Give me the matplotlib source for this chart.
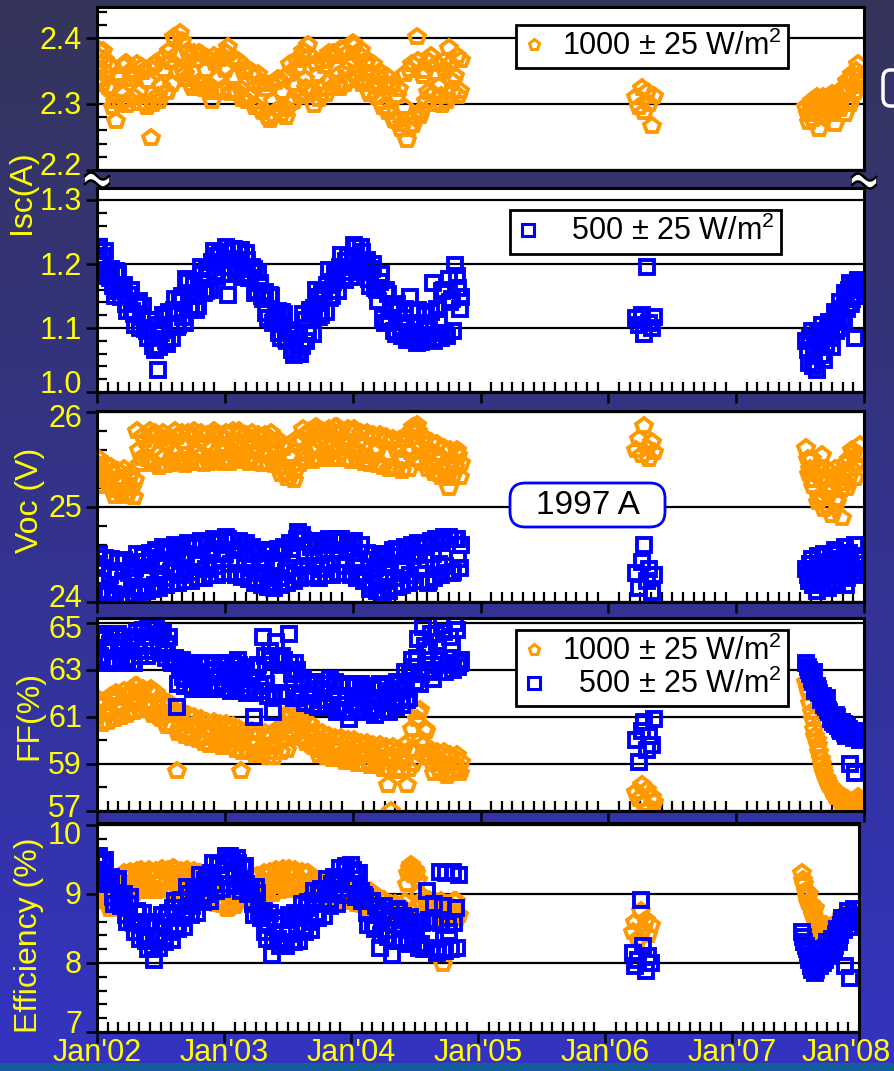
import numpy as np
import matplotlib
matplotlib.use("Agg")
import matplotlib.pyplot as plt
from matplotlib.lines import Line2D
from matplotlib.patches import Rectangle, FancyBboxPatch, Polygon
from matplotlib.ticker import FixedLocator, MultipleLocator, NullLocator
from matplotlib.transforms import blended_transform_factory, ScaledTranslation

plt.rcParams['font.family'] = ['Liberation Sans', 'DejaVu Sans']
plt.rcParams['mathtext.default'] = 'regular'

# ---------------------------------------------------------------- data
# measurement dates (decimal years), main campaign 2002-2004, two interleaved runs
t_main = [
    2002.000, 2002.025, 2002.050, 2002.075, 2002.100, 2002.125, 2002.150, 2002.175,
    2002.200, 2002.225, 2002.250, 2002.275, 2002.300, 2002.325, 2002.350, 2002.375,
    2002.400, 2002.425, 2002.450, 2002.475, 2002.500, 2002.525, 2002.550, 2002.575,
    2002.600, 2002.625, 2002.650, 2002.675, 2002.700, 2002.725, 2002.750, 2002.775,
    2002.800, 2002.825, 2002.850, 2002.875, 2002.900, 2002.925, 2002.950, 2002.975,
    2003.000, 2003.025, 2003.050, 2003.075, 2003.100, 2003.125, 2003.150, 2003.175,
    2003.200, 2003.225, 2003.250, 2003.275, 2003.300, 2003.325, 2003.350, 2003.375,
    2003.400, 2003.425, 2003.450, 2003.475, 2003.500, 2003.525, 2003.550, 2003.575,
    2003.600, 2003.625, 2003.650, 2003.675, 2003.700, 2003.725, 2003.750, 2003.775,
    2003.800, 2003.825, 2003.850, 2003.875, 2003.900, 2003.925, 2003.950, 2003.975,
    2004.000, 2004.025, 2004.050, 2004.075, 2004.100, 2004.125, 2004.150, 2004.175,
    2004.200, 2004.225, 2004.250, 2004.275, 2004.300, 2004.325, 2004.350, 2004.375,
    2004.400, 2004.425, 2004.450, 2004.475, 2004.500, 2004.525, 2004.550, 2004.575,
    2004.600, 2004.625, 2004.650, 2004.675, 2004.700, 2004.725, 2004.750, 2004.775,
    2004.800, 2004.825, 2004.850,
]
t_main_2 = [
    2002.0125, 2002.0375, 2002.0625, 2002.0875, 2002.1125, 2002.1375, 2002.1625, 2002.1875,
    2002.2125, 2002.2375, 2002.2625, 2002.2875, 2002.3125, 2002.3375, 2002.3625, 2002.3875,
    2002.4125, 2002.4375, 2002.4625, 2002.4875, 2002.5125, 2002.5375, 2002.5625, 2002.5875,
    2002.6125, 2002.6375, 2002.6625, 2002.6875, 2002.7125, 2002.7375, 2002.7625, 2002.7875,
    2002.8125, 2002.8375, 2002.8625, 2002.8875, 2002.9125, 2002.9375, 2002.9625, 2002.9875,
    2003.0125, 2003.0375, 2003.0625, 2003.0875, 2003.1125, 2003.1375, 2003.1625, 2003.1875,
    2003.2125, 2003.2375, 2003.2625, 2003.2875, 2003.3125, 2003.3375, 2003.3625, 2003.3875,
    2003.4125, 2003.4375, 2003.4625, 2003.4875, 2003.5125, 2003.5375, 2003.5625, 2003.5875,
    2003.6125, 2003.6375, 2003.6625, 2003.6875, 2003.7125, 2003.7375, 2003.7625, 2003.7875,
    2003.8125, 2003.8375, 2003.8625, 2003.8875, 2003.9125, 2003.9375, 2003.9625, 2003.9875,
    2004.0125, 2004.0375, 2004.0625, 2004.0875, 2004.1125, 2004.1375, 2004.1625, 2004.1875,
    2004.2125, 2004.2375, 2004.2625, 2004.2875, 2004.3125, 2004.3375, 2004.3625, 2004.3875,
    2004.4125, 2004.4375, 2004.4625, 2004.4875, 2004.5125, 2004.5375, 2004.5625, 2004.5875,
    2004.6125, 2004.6375, 2004.6625, 2004.6875, 2004.7125, 2004.7375, 2004.7625, 2004.7875,
    2004.8125, 2004.8375,
]
# spring 2006 check
t_2006 = [2006.22, 2006.24, 2006.26, 2006.28, 2006.30, 2006.32, 2006.34, 2006.36]
# second half of 2007, two interleaved runs
t_2007 = [2007.55, 2007.57, 2007.59, 2007.61, 2007.63, 2007.65, 2007.67, 2007.69,
          2007.71, 2007.73, 2007.75, 2007.77, 2007.79, 2007.81, 2007.83, 2007.85,
          2007.87, 2007.89, 2007.91, 2007.93, 2007.95, 2007.97]
t_2007_2 = [2007.56, 2007.58, 2007.60, 2007.62, 2007.64, 2007.66, 2007.68, 2007.70,
            2007.72, 2007.74, 2007.76, 2007.78, 2007.80, 2007.82, 2007.84, 2007.86,
            2007.88, 2007.90, 2007.92, 2007.94, 2007.96]

# Isc (A) at 1000 +/- 25 W/m2
isc_1000_main = [
    2.372, 2.338, 2.381, 2.345, 2.322, 2.296, 2.274, 2.340,
    2.315, 2.362, 2.306, 2.338, 2.344, 2.318, 2.356, 2.302,
    2.335, 2.248, 2.361, 2.312, 2.327, 2.352, 2.318, 2.364,
    2.402, 2.375, 2.408, 2.352, 2.338, 2.372, 2.325, 2.366,
    2.378, 2.331, 2.352, 2.318, 2.305, 2.362, 2.339, 2.372,
    2.352, 2.386, 2.318, 2.341, 2.365, 2.322, 2.348, 2.304,
    2.312, 2.341, 2.296, 2.330, 2.288, 2.322, 2.276, 2.305,
    2.334, 2.292, 2.318, 2.281, 2.345, 2.303, 2.331, 2.356,
    2.372, 2.338, 2.389, 2.316, 2.298, 2.344, 2.322, 2.358,
    2.367, 2.335, 2.378, 2.343, 2.325, 2.382, 2.351, 2.364,
    2.393, 2.346, 2.374, 2.331, 2.362, 2.318, 2.345, 2.327,
    2.341, 2.303, 2.332, 2.288, 2.326, 2.276, 2.312, 2.262,
    2.295, 2.246, 2.352, 2.268, 2.401, 2.282, 2.342, 2.305,
    2.364, 2.315, 2.347, 2.328, 2.298, 2.352, 2.385, 2.335,
    2.342, 2.312, 2.366,
]
isc_1000_main_2 = [
    2.382, 2.331, 2.366, 2.326, 2.358, 2.305, 2.345, 2.300,
    2.357, 2.298, 2.350, 2.310, 2.360, 2.302, 2.348, 2.296,
    2.355, 2.300, 2.362, 2.305, 2.370, 2.318, 2.380, 2.330,
    2.398, 2.350, 2.395, 2.345, 2.380, 2.330, 2.378, 2.332,
    2.376, 2.322, 2.370, 2.328, 2.372, 2.318, 2.368, 2.322,
    2.378, 2.316, 2.370, 2.320, 2.362, 2.308, 2.355, 2.312,
    2.348, 2.295, 2.345, 2.290, 2.332, 2.280, 2.330, 2.284,
    2.338, 2.285, 2.340, 2.292, 2.360, 2.305, 2.366, 2.312,
    2.380, 2.325, 2.372, 2.320, 2.362, 2.308, 2.365, 2.315,
    2.378, 2.325, 2.372, 2.330, 2.384, 2.330, 2.378, 2.336,
    2.388, 2.338, 2.382, 2.336, 2.366, 2.315, 2.360, 2.310,
    2.348, 2.295, 2.342, 2.290, 2.330, 2.275, 2.322, 2.270,
    2.345, 2.262, 2.360, 2.280, 2.365, 2.290, 2.350, 2.318,
    2.372, 2.300, 2.360, 2.312, 2.365, 2.305, 2.360, 2.318,
    2.372, 2.320,
]
isc_1000_2006 = [2.310, 2.295, 2.325, 2.288, 2.318, 2.300, 2.266, 2.312]
isc_1000_2007 = [2.295, 2.272, 2.305, 2.285, 2.310, 2.262, 2.298, 2.280,
                 2.302, 2.288, 2.315, 2.270, 2.305, 2.292, 2.320, 2.285,
                 2.335, 2.300, 2.345, 2.318, 2.360, 2.330]
isc_1000_2007_2 = [2.285, 2.300, 2.278, 2.296, 2.305, 2.282, 2.310, 2.290,
                   2.298, 2.308, 2.285, 2.312, 2.298, 2.305, 2.325, 2.300,
                   2.322, 2.338, 2.328, 2.350, 2.342]

# Isc (A) at 500 +/- 25 W/m2
isc_500_main = [
    1.221, 1.198, 1.212, 1.186, 1.178, 1.165, 1.189, 1.158,
    1.162, 1.138, 1.151, 1.127, 1.105, 1.142, 1.118, 1.098,
    1.085, 1.112, 1.066, 1.034, 1.092, 1.118, 1.075, 1.104,
    1.128, 1.101, 1.142, 1.117, 1.176, 1.135, 1.152, 1.128,
    1.162, 1.185, 1.158, 1.192, 1.204, 1.187, 1.212, 1.196,
    1.219, 1.152, 1.208, 1.224, 1.196, 1.222, 1.184, 1.207,
    1.178, 1.192, 1.158, 1.171, 1.146, 1.123, 1.152, 1.108,
    1.118, 1.092, 1.125, 1.083, 1.097, 1.066, 1.081, 1.059,
    1.072, 1.112, 1.094, 1.125, 1.132, 1.148, 1.121, 1.156,
    1.168, 1.147, 1.172, 1.183, 1.196, 1.178, 1.205, 1.188,
    1.212, 1.226, 1.198, 1.219, 1.205, 1.176, 1.192, 1.163,
    1.142, 1.185, 1.108, 1.153, 1.126, 1.095, 1.138, 1.102,
    1.115, 1.082, 1.148, 1.094, 1.076, 1.108, 1.089, 1.122,
    1.097, 1.171, 1.084, 1.112, 1.158, 1.093, 1.176, 1.145,
    1.199, 1.162, 1.148,
]
isc_500_main_2 = [
    1.226, 1.186, 1.220, 1.182, 1.192, 1.150, 1.185, 1.148,
    1.168, 1.126, 1.160, 1.122, 1.140, 1.100, 1.135, 1.096,
    1.112, 1.072, 1.105, 1.070, 1.120, 1.080, 1.125, 1.085,
    1.146, 1.105, 1.150, 1.108, 1.172, 1.130, 1.168, 1.135,
    1.196, 1.155, 1.192, 1.160, 1.220, 1.180, 1.218, 1.185,
    1.226, 1.185, 1.224, 1.190, 1.222, 1.180, 1.218, 1.178,
    1.196, 1.155, 1.188, 1.150, 1.156, 1.115, 1.150, 1.112,
    1.126, 1.085, 1.122, 1.080, 1.096, 1.058, 1.092, 1.060,
    1.122, 1.080, 1.128, 1.090, 1.160, 1.118, 1.158, 1.125,
    1.190, 1.150, 1.188, 1.158, 1.215, 1.175, 1.212, 1.180,
    1.230, 1.192, 1.226, 1.195, 1.206, 1.165, 1.200, 1.160,
    1.172, 1.115, 1.160, 1.110, 1.135, 1.090, 1.128, 1.088,
    1.130, 1.082, 1.125, 1.085, 1.128, 1.078, 1.120, 1.082,
    1.125, 1.080, 1.130, 1.085, 1.160, 1.088, 1.140, 1.095,
    1.182, 1.130,
]
isc_500_2006 = [1.115, 1.105, 1.120, 1.090, 1.195, 1.108, 1.100, 1.118]
isc_500_2007 = [1.080, 1.045, 1.095, 1.060, 1.035, 1.075, 1.105, 1.050,
                1.090, 1.110, 1.070, 1.125, 1.100, 1.140, 1.115, 1.155,
                1.130, 1.170, 1.145, 1.085, 1.175, 1.160]
isc_500_2007_2 = [1.065, 1.085, 1.040, 1.070, 1.095, 1.058, 1.088, 1.075,
                  1.100, 1.085, 1.110, 1.095, 1.122, 1.130, 1.110, 1.145,
                  1.160, 1.138, 1.165, 1.150, 1.170]

# Voc (V)
voc_1000_main = [
    25.45, 25.28, 25.40, 25.33, 25.22, 25.36, 25.18, 25.30,
    25.26, 25.14, 25.32, 25.20, 25.28, 25.60, 25.52, 25.70,
    25.65, 25.48, 25.78, 25.56, 25.72, 25.53, 25.66, 25.45,
    25.58, 25.74, 25.50, 25.68, 25.63, 25.52, 25.75, 25.58,
    25.70, 25.55, 25.66, 25.46, 25.62, 25.77, 25.53, 25.65,
    25.72, 25.50, 25.68, 25.58, 25.64, 25.78, 25.56, 25.70,
    25.52, 25.68, 25.60, 25.74, 25.66, 25.55, 25.72, 25.48,
    25.58, 25.42, 25.64, 25.36, 25.30, 25.52, 25.38, 25.66,
    25.70, 25.56, 25.78, 25.60, 25.82, 25.62, 25.70, 25.55,
    25.68, 25.76, 25.58, 25.84, 25.62, 25.72, 25.50, 25.66,
    25.78, 25.60, 25.70, 25.54, 25.66, 25.48, 25.74, 25.58,
    25.62, 25.45, 25.70, 25.56, 25.68, 25.42, 25.60, 25.52,
    25.50, 25.76, 25.58, 25.84, 25.86, 25.62, 25.74, 25.55,
    25.60, 25.44, 25.56, 25.35, 25.52, 25.38, 25.20, 25.48,
    25.42, 25.55, 25.46,
]
voc_1000_main_2 = [
    25.50, 25.22, 25.45, 25.25, 25.42, 25.12, 25.38, 25.15,
    25.40, 25.12, 25.36, 25.10, 25.80, 25.45, 25.75, 25.50,
    25.80, 25.45, 25.76, 25.42, 25.78, 25.44, 25.74, 25.48,
    25.80, 25.46, 25.78, 25.44, 25.78, 25.48, 25.80, 25.46,
    25.78, 25.45, 25.76, 25.50, 25.80, 25.48, 25.76, 25.46,
    25.78, 25.46, 25.80, 25.48, 25.80, 25.50, 25.76, 25.46,
    25.78, 25.48, 25.76, 25.45, 25.76, 25.46, 25.78, 25.44,
    25.70, 25.35, 25.62, 25.30, 25.55, 25.28, 25.72, 25.45,
    25.82, 25.50, 25.80, 25.48, 25.84, 25.52, 25.80, 25.50,
    25.82, 25.50, 25.84, 25.52, 25.80, 25.50, 25.82, 25.48,
    25.82, 25.50, 25.78, 25.46, 25.78, 25.45, 25.76, 25.44,
    25.76, 25.42, 25.74, 25.40, 25.72, 25.40, 25.70, 25.38,
    25.70, 25.40, 25.80, 25.50, 25.80, 25.46, 25.72, 25.40,
    25.68, 25.36, 25.66, 25.32, 25.62, 25.30, 25.60, 25.34,
    25.60, 25.32,
]
voc_1000_2006 = [25.60, 25.72, 25.55, 25.85, 25.62, 25.50, 25.68, 25.58]
voc_1000_2007 = [25.62, 25.35, 25.50, 25.28, 25.42, 25.10, 25.55, 24.98,
                 25.30, 25.15, 24.92, 25.40, 25.05, 25.25, 24.88, 25.45,
                 25.20, 25.35, 25.60, 25.30, 25.55, 25.65]
voc_1000_2007_2 = [25.50, 25.40, 25.22, 25.35, 25.05, 25.28, 25.12, 25.40,
                   25.00, 25.22, 25.32, 25.08, 25.30, 25.18, 25.38, 25.25,
                   25.50, 25.40, 25.58, 25.45, 25.55]

voc_500_main = [
    24.40, 24.22, 24.36, 24.12, 24.28, 24.08, 24.33, 24.18,
    24.22, 24.05, 24.30, 24.14, 24.36, 24.16, 24.42, 24.24,
    24.28, 24.46, 24.18, 24.38, 24.44, 24.25, 24.52, 24.32,
    24.36, 24.55, 24.28, 24.47, 24.50, 24.32, 24.58, 24.40,
    24.42, 24.60, 24.35, 24.52, 24.56, 24.38, 24.62, 24.45,
    24.50, 24.66, 24.40, 24.55, 24.44, 24.58, 24.30, 24.52,
    24.36, 24.50, 24.24, 24.42, 24.30, 24.45, 24.20, 24.38,
    24.42, 24.25, 24.52, 24.32, 24.36, 24.56, 24.28, 24.74,
    24.70, 24.48, 24.38, 24.58, 24.44, 24.62, 24.35, 24.52,
    24.60, 24.40, 24.55, 24.66, 24.45, 24.64, 24.38, 24.56,
    24.62, 24.42, 24.52, 24.30, 24.28, 24.44, 24.18, 24.36,
    24.40, 24.12, 24.30, 24.22, 24.48, 24.25, 24.56, 24.34,
    24.38, 24.55, 24.28, 24.48, 24.52, 24.35, 24.58, 24.44,
    24.22, 24.50, 24.66, 24.40, 24.62, 24.38, 24.68, 24.30,
    24.66, 24.45, 24.60,
]
voc_500_main_2 = [
    24.50, 24.10, 24.46, 24.08, 24.45, 24.06, 24.42, 24.05,
    24.44, 24.05, 24.40, 24.08, 24.50, 24.10, 24.48, 24.12,
    24.52, 24.14, 24.55, 24.15, 24.58, 24.18, 24.56, 24.20,
    24.60, 24.20, 24.58, 24.22, 24.62, 24.22, 24.60, 24.25,
    24.64, 24.25, 24.62, 24.28, 24.66, 24.28, 24.64, 24.30,
    24.68, 24.30, 24.64, 24.28, 24.64, 24.26, 24.62, 24.24,
    24.58, 24.20, 24.55, 24.18, 24.55, 24.16, 24.52, 24.15,
    24.56, 24.18, 24.58, 24.20, 24.62, 24.22, 24.66, 24.25,
    24.65, 24.26, 24.64, 24.28, 24.64, 24.25, 24.62, 24.28,
    24.66, 24.28, 24.64, 24.30, 24.66, 24.30, 24.64, 24.28,
    24.64, 24.25, 24.60, 24.22, 24.52, 24.14, 24.50, 24.12,
    24.48, 24.10, 24.50, 24.12, 24.55, 24.16, 24.54, 24.18,
    24.58, 24.20, 24.60, 24.22, 24.62, 24.22, 24.60, 24.20,
    24.64, 24.25, 24.66, 24.28, 24.68, 24.30, 24.66, 24.32,
    24.66, 24.36,
]
voc_500_2006 = [24.30, 24.15, 24.42, 24.60, 24.22, 24.35, 24.10, 24.28]
voc_500_2007 = [24.35, 24.22, 24.45, 24.30, 24.12, 24.40, 24.25, 24.50,
                24.18, 24.38, 24.28, 24.55, 24.20, 24.42, 24.32, 24.58,
                24.25, 24.45, 24.35, 24.60, 24.30, 24.48]
voc_500_2007_2 = [24.28, 24.40, 24.18, 24.35, 24.48, 24.22, 24.42, 24.30,
                  24.15, 24.45, 24.35, 24.22, 24.50, 24.30, 24.40, 24.18,
                  24.52, 24.38, 24.28, 24.45, 24.40]

# FF (%)
ff_1000_main = [
    61.0, 61.5, 60.8, 61.3, 61.8, 60.9, 62.0, 61.3,
    61.4, 61.9, 61.2, 62.1, 62.3, 61.6, 62.0, 61.5,
    61.4, 62.2, 61.2, 61.7, 60.9, 61.5, 60.6, 61.1,
    61.2, 58.7, 60.5, 60.8, 60.4, 61.0, 60.2, 60.7,
    60.6, 60.1, 60.5, 59.8, 60.5, 60.0, 60.4, 59.7,
    59.9, 60.5, 60.0, 60.3, 60.2, 58.7, 60.1, 59.6,
    59.9, 60.3, 59.5, 59.6, 59.6, 60.1, 59.5, 59.9,
    59.7, 60.3, 60.0, 60.6, 61.0, 60.4, 61.3, 60.7,
    60.8, 60.0, 60.4, 59.8, 60.2, 59.6, 60.0, 59.5,
    59.9, 59.4, 59.8, 59.3, 59.7, 59.3, 59.9, 59.4,
    59.2, 59.7, 59.4, 59.8, 59.5, 59.1, 59.6, 59.2,
    59.0, 59.5, 59.2, 58.1, 57.0, 59.3, 58.8, 59.4,
    59.1, 58.1, 59.6, 59.0, 60.9, 61.3, 59.8, 60.4,
    59.4, 59.0, 59.3, 58.8, 59.1, 58.9, 59.3, 58.7,
    59.0, 58.8, 59.1,
]
ff_1000_main_2 = [
    61.7, 60.7, 61.6, 60.8, 61.9, 60.9, 61.8, 61.0,
    62.1, 61.1, 62.0, 61.2, 62.3, 61.3, 62.2, 61.4,
    62.1, 61.1, 62.0, 61.0, 61.7, 60.7, 61.6, 60.6,
    61.3, 60.3, 61.2, 60.2, 61.1, 60.1, 61.0, 60.0,
    60.9, 59.9, 60.8, 59.8, 60.8, 59.8, 60.7, 59.7,
    60.7, 59.7, 60.6, 59.6, 60.5, 59.5, 60.4, 59.5,
    60.4, 59.4, 60.3, 59.4, 60.3, 59.3, 60.2, 59.3,
    60.5, 59.5, 60.6, 59.6, 61.2, 60.2, 61.1, 60.1,
    60.9, 59.9, 60.7, 59.7, 60.4, 59.4, 60.3, 59.3,
    60.2, 59.2, 60.1, 59.2, 60.1, 59.1, 60.0, 59.1,
    60.0, 59.0, 59.9, 59.0, 59.9, 58.9, 59.8, 58.9,
    59.8, 58.8, 59.7, 58.8, 59.7, 58.7, 59.6, 58.7,
    59.8, 58.8, 60.5, 59.6, 61.2, 60.0, 60.5, 59.3,
    59.6, 58.6, 59.5, 58.6, 59.5, 58.5, 59.4, 58.6,
    59.4, 58.6,
]
ff_1000_2006 = [57.8, 57.5, 58.1, 57.3, 57.9, 57.1, 57.6, 57.4]
ff_1000_2007 = [62.5, 62.0, 61.2, 60.5, 60.0, 59.5, 59.0, 58.6,
                58.3, 58.1, 57.9, 57.7, 57.8, 57.5, 57.6, 57.3,
                57.5, 57.2, 57.4, 57.2, 57.6, 57.4]
ff_1000_2007_2 = [62.2, 61.6, 60.9, 60.2, 59.8, 59.2, 58.8, 58.4,
                  58.2, 58.0, 57.8, 57.6, 57.7, 57.4, 57.5, 57.3,
                  57.4, 57.1, 57.3, 57.4, 57.5]

ff_500_main = [
    64.3, 63.6, 64.5, 63.9, 64.1, 63.4, 64.4, 63.8,
    64.2, 63.5, 64.0, 63.3, 64.4, 63.8, 64.6, 64.0,
    64.8, 64.2, 64.9, 64.4, 64.5, 63.7, 64.1, 63.4,
    63.3, 61.4, 63.0, 62.7, 62.6, 63.1, 62.2, 62.9,
    63.2, 62.5, 62.9, 62.2, 62.7, 63.0, 62.4, 63.2,
    62.5, 62.9, 62.1, 63.0, 63.4, 62.4, 62.8, 62.0,
    62.6, 61.0, 63.1, 62.3, 64.4, 62.4, 63.8, 61.2,
    64.2, 62.6, 63.6, 62.0, 64.5, 62.8, 63.3, 61.8,
    62.6, 61.6, 62.4, 61.9, 62.5, 61.4, 62.2, 61.7,
    61.5, 62.6, 61.8, 61.2, 62.3, 61.5, 61.9, 60.9,
    61.6, 62.4, 61.2, 62.0, 62.2, 61.4, 61.8, 61.1,
    61.7, 62.3, 61.3, 61.9, 62.1, 61.6, 62.5, 61.8,
    62.2, 61.7, 62.8, 63.1, 63.5, 62.4, 64.8, 63.0,
    63.8, 62.6, 64.5, 63.4, 64.9, 62.9, 63.3, 64.1,
    65.0, 63.1, 63.4,
]
ff_500_main_2 = [
    64.5, 63.4, 64.4, 63.3, 64.4, 63.3, 64.5, 63.4,
    64.4, 63.4, 64.3, 63.3, 64.6, 63.6, 64.7, 63.6,
    64.9, 63.8, 64.8, 63.9, 64.6, 63.5, 64.4, 63.3,
    63.5, 62.4, 63.4, 62.3, 63.3, 62.3, 63.2, 62.2,
    63.3, 62.2, 63.2, 62.3, 63.3, 62.3, 63.2, 62.2,
    63.3, 62.2, 63.3, 62.3, 63.2, 62.1, 63.1, 62.2,
    63.1, 62.0, 63.2, 62.1, 63.6, 61.9, 63.4, 62.0,
    63.5, 61.9, 63.4, 62.0, 63.3, 61.8, 63.0, 61.9,
    62.6, 61.6, 62.5, 61.5, 62.5, 61.5, 62.4, 61.4,
    62.4, 61.4, 62.5, 61.3, 62.3, 61.3, 62.4, 61.2,
    62.3, 61.3, 62.4, 61.3, 62.3, 61.2, 62.2, 61.3,
    62.4, 61.3, 62.3, 61.2, 62.4, 61.4, 62.5, 61.5,
    62.9, 61.8, 63.4, 62.5, 64.3, 62.8, 64.0, 62.9,
    64.5, 63.0, 64.2, 63.2, 64.6, 63.2, 64.4, 63.0,
    64.7, 63.3,
]
ff_500_2006 = [60.0, 59.1, 60.4, 60.8, 59.6, 60.2, 59.8, 60.9]
ff_500_2007 = [63.3, 63.0, 62.6, 62.9, 62.3, 62.0, 61.8, 61.5,
               61.8, 61.2, 61.0, 60.7, 61.0, 60.5, 60.8, 60.3,
               60.6, 59.0, 60.4, 58.6, 60.2, 60.0]
ff_500_2007_2 = [63.1, 62.8, 62.5, 62.1, 62.2, 61.7, 61.9, 61.4,
                 61.3, 60.9, 60.8, 61.1, 60.6, 60.4, 60.7, 60.2,
                 60.5, 60.3, 60.1, 60.4, 60.2]

# Efficiency (%)
eff_1000_main = [
    9.20, 8.95, 9.15, 9.02, 8.78, 9.10, 8.85, 9.05,
    9.12, 9.25, 9.05, 9.30, 9.22, 9.10, 9.35, 9.15,
    9.30, 9.12, 9.25, 9.05, 9.20, 9.34, 9.08, 9.26,
    9.38, 9.15, 9.28, 9.10, 9.18, 9.32, 9.08, 9.24,
    9.30, 9.06, 9.20, 9.12, 8.95, 9.05, 8.85, 9.00,
    8.92, 8.78, 9.02, 8.88, 9.10, 8.95, 9.18, 9.02,
    9.12, 9.24, 9.00, 9.15, 9.20, 9.08, 9.28, 9.12,
    9.25, 9.14, 9.32, 9.18, 9.30, 9.10, 9.34, 9.20,
    9.22, 9.12, 9.30, 9.05, 9.18, 9.00, 9.12, 8.95,
    9.10, 8.95, 9.15, 9.02, 9.00, 9.12, 8.92, 9.08,
    9.05, 8.90, 9.10, 8.98, 8.95, 8.78, 9.05, 8.85,
    8.88, 8.65, 8.92, 8.72, 8.80, 8.55, 8.85, 8.65,
    8.70, 8.88, 9.30, 9.42, 9.35, 9.20, 8.90, 8.70,
    8.85, 8.65, 8.90, 8.72, 8.80, 7.99, 8.85, 8.68,
    8.78, 8.90, 8.70,
]
eff_1000_main_2 = [
    9.22, 8.90, 9.18, 8.88, 9.12, 8.82, 9.15, 8.85,
    9.30, 9.00, 9.32, 9.02, 9.34, 9.04, 9.32, 9.05,
    9.35, 9.05, 9.34, 9.06, 9.36, 9.06, 9.35, 9.04,
    9.36, 9.05, 9.34, 9.06, 9.35, 9.06, 9.34, 9.05,
    9.30, 9.00, 9.28, 9.00, 9.15, 8.86, 9.12, 8.84,
    9.10, 8.80, 9.08, 8.82, 9.20, 8.90, 9.18, 8.92,
    9.28, 8.98, 9.26, 9.00, 9.30, 9.02, 9.32, 9.00,
    9.35, 9.05, 9.36, 9.08, 9.36, 9.06, 9.35, 9.05,
    9.32, 9.04, 9.30, 9.02, 9.22, 8.94, 9.20, 8.92,
    9.20, 8.90, 9.18, 8.92, 9.20, 8.90, 9.18, 8.88,
    9.15, 8.86, 9.12, 8.84, 9.05, 8.75, 9.02, 8.74,
    8.95, 8.65, 8.92, 8.62, 8.85, 8.55, 8.82, 8.55,
    8.80, 9.15, 9.38, 9.28, 9.30, 9.00, 8.85, 8.62,
    8.92, 8.62, 8.88, 8.65, 8.90, 8.62, 8.86, 8.64,
    8.90, 8.65,
]
eff_1000_2006 = [8.45, 8.60, 8.35, 8.75, 8.50, 8.62, 8.40, 8.55]
eff_1000_2007 = [9.30, 9.15, 8.95, 9.00, 8.75, 8.80, 8.55, 8.60,
                 8.42, 8.50, 8.35, 8.45, 8.52, 8.40, 8.60, 8.50,
                 8.68, 8.55, 8.72, 8.60, 8.75, 8.65]
eff_1000_2007_2 = [9.20, 9.05, 8.88, 8.85, 8.70, 8.62, 8.50, 8.48,
                   8.38, 8.55, 8.42, 8.48, 8.45, 8.55, 8.48, 8.62,
                   8.58, 8.65, 8.70, 8.62, 8.72]

eff_500_main = [
    9.55, 9.30, 9.45, 9.22, 9.15, 8.95, 9.20, 8.90,
    8.92, 8.70, 8.85, 8.60, 8.45, 8.72, 8.55, 8.38,
    8.20, 8.55, 8.05, 8.35, 8.60, 8.38, 8.68, 8.45,
    8.80, 8.55, 8.90, 8.65, 8.75, 9.00, 8.82, 9.05,
    9.10, 8.95, 9.20, 9.00, 9.30, 9.15, 9.42, 9.25,
    9.45, 9.28, 9.55, 9.32, 9.52, 9.22, 9.38, 9.15,
    9.05, 8.85, 9.10, 8.75, 8.70, 8.45, 8.58, 8.12,
    8.55, 8.35, 8.62, 8.30, 8.42, 8.65, 8.30, 8.55,
    8.70, 8.48, 8.82, 8.60, 8.90, 8.72, 9.00, 8.85,
    9.05, 8.92, 9.15, 9.00, 9.25, 9.08, 9.35, 9.15,
    9.42, 9.15, 9.30, 9.05, 8.98, 8.72, 8.90, 8.55,
    8.82, 8.22, 8.70, 8.48, 8.65, 8.12, 8.55, 8.75,
    8.50, 8.62, 8.35, 8.55, 8.40, 8.58, 8.28, 8.20,
    9.05, 8.40, 8.85, 8.15, 9.32, 8.82, 9.30, 8.45,
    9.32, 8.80, 9.28,
]
eff_500_main_2 = [
    9.55, 9.18, 9.50, 9.15, 9.25, 8.85, 9.22, 8.82,
    9.00, 8.60, 8.95, 8.58, 8.75, 8.35, 8.72, 8.32,
    8.60, 8.20, 8.58, 8.22, 8.70, 8.30, 8.72, 8.34,
    8.90, 8.50, 8.92, 8.52, 9.10, 8.70, 9.08, 8.72,
    9.28, 8.88, 9.26, 8.90, 9.45, 9.05, 9.42, 9.08,
    9.55, 9.15, 9.50, 9.12, 9.45, 9.05, 9.40, 9.00,
    9.10, 8.70, 9.02, 8.65, 8.75, 8.35, 8.72, 8.32,
    8.65, 8.25, 8.62, 8.25, 8.70, 8.30, 8.72, 8.32,
    8.85, 8.45, 8.88, 8.48, 9.05, 8.65, 9.08, 8.68,
    9.22, 8.82, 9.25, 8.85, 9.38, 8.98, 9.40, 9.00,
    9.35, 8.95, 9.30, 8.90, 8.95, 8.55, 8.90, 8.50,
    8.80, 8.40, 8.82, 8.38, 8.75, 8.35, 8.78, 8.32,
    8.68, 8.28, 8.66, 8.30, 8.60, 8.22, 8.58, 8.20,
    8.62, 8.20, 8.60, 8.22, 8.58, 8.18, 8.55, 8.20,
    8.58, 8.22,
]
eff_500_2006 = [8.15, 7.95, 8.05, 8.92, 8.25, 7.88, 8.10, 8.00]
eff_500_2007 = [8.45, 8.30, 8.20, 8.05, 7.90, 7.85, 8.10, 7.95,
                8.20, 8.05, 8.30, 8.15, 8.35, 8.25, 8.50, 8.40,
                8.65, 7.95, 8.75, 7.78, 8.60, 8.70]
eff_500_2007_2 = [8.38, 8.25, 8.12, 7.95, 8.00, 7.90, 8.02, 8.12,
                  8.00, 8.22, 8.10, 8.25, 8.18, 8.42, 8.30, 8.55,
                  8.48, 8.62, 8.52, 8.68, 8.78]

year_ticks = [2002, 2003, 2004, 2005, 2006, 2007, 2008]
year_labels = ["Jan'02", "Jan'03", "Jan'04", "Jan'05", "Jan'06", "Jan'07", "Jan'08"]
label_1000 = "1000 ± 25 W/m$^2$"
label_500 = "500 ± 25 W/m$^2$"

# ---------------------------------------------------------------- style
ORANGE = '#FF9900'
BLUE = '#0000FF'
YELLOW = '#FFFF00'
W, H = 894, 1071

fig = plt.figure(figsize=(W / 100, H / 100), dpi=100)

# slide background: vertical gradient from navy to blue
bg = fig.add_axes([0, 0, 1, 1], zorder=-10)
frac = np.linspace(0, 1, 256)[:, None, None]
c_top = np.array([0.205, 0.205, 0.355])
c_bot = np.array([0.200, 0.200, 0.760])
bg.imshow(c_top + (c_bot - c_top) * frac, aspect='auto', extent=[0, 1, 0, 1], origin='upper')
bg.add_patch(Rectangle((0, 0), 1, 8 / H, color='#135E9B', lw=0))
bg.add_patch(FancyBboxPatch((883 / W, 1 - 106 / H), 40 / W, 36 / H,
                            boxstyle='round,pad=0,rounding_size=0.008',
                            fc='#34346A', ec='white', lw=2.5))
bg.set_xlim(0, 1)
bg.set_ylim(0, 1)
bg.set_axis_off()


def px(dx, dy):
    """offset transform in pixels (dy positive = downwards)"""
    return ScaledTranslation(dx / 100, -dy / 100, fig.dpi_scale_trans)


def panel(x0, x1, y0, y1):
    return fig.add_axes([x0 / W, 1 - y1 / H, (x1 - x0) / W, (y1 - y0) / H])


def style(ax, ylim, majors, minor, labels, shifts, xticks=True):
    ax.set_facecolor('white')
    ax.set_xlim(2002, 2008)
    ax.set_ylim(*ylim)
    ax.yaxis.set_major_locator(FixedLocator(majors))
    ax.yaxis.set_minor_locator(MultipleLocator(minor))
    ax.grid(True, which='major', axis='y', color='black', lw=1.6)
    ax.set_axisbelow(True)
    for s in ax.spines.values():
        s.set_linewidth(2.2)
    ax.tick_params(axis='y', which='major', direction='out', length=8, width=1.8,
                   labelleft=False)
    ax.tick_params(axis='y', which='minor', direction='in', length=7, width=1.6)
    trans = blended_transform_factory(ax.transAxes, ax.transData)
    for val, lab, dy in zip(majors, labels, shifts):
        ax.text(0, val, lab, transform=trans + px(-15, dy), ha='right', va='center',
                fontsize=22, color=YELLOW, clip_on=False)
    if xticks:
        ax.xaxis.set_major_locator(FixedLocator(year_ticks))
        ax.xaxis.set_minor_locator(MultipleLocator(1 / 12))
        ax.tick_params(axis='x', which='major', direction='out', length=8, width=1.8,
                       labelbottom=False)
        ax.tick_params(axis='x', which='minor', direction='in', length=7, width=1.6)
    else:
        ax.xaxis.set_major_locator(NullLocator())
        ax.xaxis.set_minor_locator(NullLocator())


def draw(ax, t, v, kind):
    if kind == 1000:
        ax.plot(t, v, ls='none', marker='p', ms=11.5, mfc='none', mec=ORANGE, mew=2.8)
    else:
        ax.plot(t, v, ls='none', marker='s', ms=10.5, mfc='none', mec=BLUE, mew=2.8)


def draw_all(ax, kind, main, main_2, s06, s07, s07_2):
    draw(ax, t_main, main, kind)
    draw(ax, t_main_2, main_2, kind)
    draw(ax, t_2006, s06, kind)
    draw(ax, t_2007, s07, kind)
    draw(ax, t_2007_2, s07_2, kind)


h1000 = Line2D([], [], ls='none', marker='p', ms=8, mfc='none', mec=ORANGE, mew=2.2)
h500 = Line2D([], [], ls='none', marker='s', ms=8, mfc='none', mec=BLUE, mew=2.2)


def legend(ax, handles, labels, anchor):
    leg = ax.legend(handles, labels, loc='upper left', bbox_to_anchor=anchor,
                    frameon=True, fancybox=False, edgecolor='black', facecolor='white',
                    framealpha=1, fontsize=22, handlelength=0.8, handletextpad=0.5,
                    borderpad=0.2, borderaxespad=0, labelspacing=0.05)
    leg.get_frame().set_linewidth(2)
    leg.set_zorder(10)
    return leg


# Isc, upper (1000 W/m2) part of the broken axis
ax_ih = panel(97, 864, 7, 170)
style(ax_ih, (2.2, 2.447), [2.2, 2.3, 2.4], 0.02, ['2.2', '2.3', '2.4'], [-3, 2, 3],
      xticks=False)
draw_all(ax_ih, 1000, isc_1000_main, isc_1000_main_2, isc_1000_2006,
         isc_1000_2007, isc_1000_2007_2)
legend(ax_ih, [h1000], [label_1000], (0.546, 0.89))

# Isc, lower (500 W/m2) part
ax_il = panel(97, 864, 188, 392)
style(ax_il, (1.0, 1.319), [1.0, 1.1, 1.2, 1.3], 0.02, ['1.0', '1.1', '1.2', '1.3'],
      [-7, 3, 3, 2])
draw_all(ax_il, 500, isc_500_main, isc_500_main_2, isc_500_2006,
         isc_500_2007, isc_500_2007_2)
legend(ax_il, [h500], ['  ' + label_500], (0.538, 0.892))

# Voc
ax_v = panel(97, 864, 411, 602)
style(ax_v, (24, 26.01), [24, 25, 26], 0.2, ['24', '25', '26'], [-3, 2, 7])
draw_all(ax_v, 1000, voc_1000_main, voc_1000_main_2, voc_1000_2006,
         voc_1000_2007, voc_1000_2007_2)
draw_all(ax_v, 500, voc_500_main, voc_500_main_2, voc_500_2006,
         voc_500_2007, voc_500_2007_2)
ax_v.add_patch(FancyBboxPatch(((510 - 97) / 767, (602 - 527) / 191), 155 / 767, 44 / 191,
                              boxstyle='round,pad=0,rounding_size=0.02',
                              mutation_aspect=4.0,
                              transform=ax_v.transAxes, fc='white', ec=BLUE, lw=2,
                              zorder=5))
ax_v.text((588 - 97) / 767, (602 - 505) / 191, '1997 A', transform=ax_v.transAxes,
          ha='center', va='center', fontsize=24, color='black', zorder=6)

# FF
ax_f = panel(97, 864, 618, 811)
style(ax_f, (57, 65.2), [57, 59, 61, 63, 65], 1, ['57', '59', '61', '63', '65'],
      [-2, 2, 2, 2, 7])
draw_all(ax_f, 1000, ff_1000_main, ff_1000_main_2, ff_1000_2006,
         ff_1000_2007, ff_1000_2007_2)
draw_all(ax_f, 500, ff_500_main, ff_500_main_2, ff_500_2006,
         ff_500_2007, ff_500_2007_2)
legend(ax_f, [h1000, h500], [label_1000, '  ' + label_500], (0.546, 0.938))

# Efficiency
ax_e = panel(97, 859, 823, 1032)
style(ax_e, (7, 10.03), [7, 8, 9, 10], 0.2, ['7', '8', '9', '10'], [-7, 2, 2, 11])
draw_all(ax_e, 1000, eff_1000_main, eff_1000_main_2, eff_1000_2006,
         eff_1000_2007, eff_1000_2007_2)
draw_all(ax_e, 500, eff_500_main, eff_500_main_2, eff_500_2006,
         eff_500_2007, eff_500_2007_2)
xtrans = blended_transform_factory(ax_e.transData, ax_e.transAxes)
for yr, lab in zip(year_ticks, year_labels):
    dx = -13 if yr == 2008 else 0
    ax_e.text(yr, 0, lab, transform=xtrans + px(dx, 6), ha='center', va='top',
              fontsize=22, color=YELLOW, clip_on=False)

# axis titles
for txt, xc, yc in [('Isc(A)', 22, 192), ('Voc (V)', 30, 500), ('FF(%)', 29, 716),
                    ('Efficiency (%)', 29, 935)]:
    fig.text(xc / W, 1 - yc / H, txt, rotation=90, color=YELLOW, fontsize=23,
             ha='center', va='center')


# axis-break symbols on both sides of the Isc gap
def break_mark(xc, yc):
    s = np.linspace(-1, 1, 40)
    xs = xc + 12 * s
    top = yc - 4 + 3.5 * np.sin(np.pi * s)
    bot = yc + 4 + 3.5 * np.sin(np.pi * s)
    pts = np.concatenate([np.c_[xs, top], np.c_[xs[::-1], bot[::-1]]])
    pts_f = np.c_[pts[:, 0] / W, 1 - pts[:, 1] / H]
    fig.add_artist(Polygon(pts_f, closed=True, fc='white', ec='none',
                           transform=fig.transFigure, zorder=20))
    for yy in (top, bot):
        fig.add_artist(Line2D(xs / W, 1 - yy / H, color='black', lw=1.8,
                              transform=fig.transFigure, zorder=21))


break_mark(97, 180)
break_mark(864, 181)

fig.savefig('out.png', dpi=100)
